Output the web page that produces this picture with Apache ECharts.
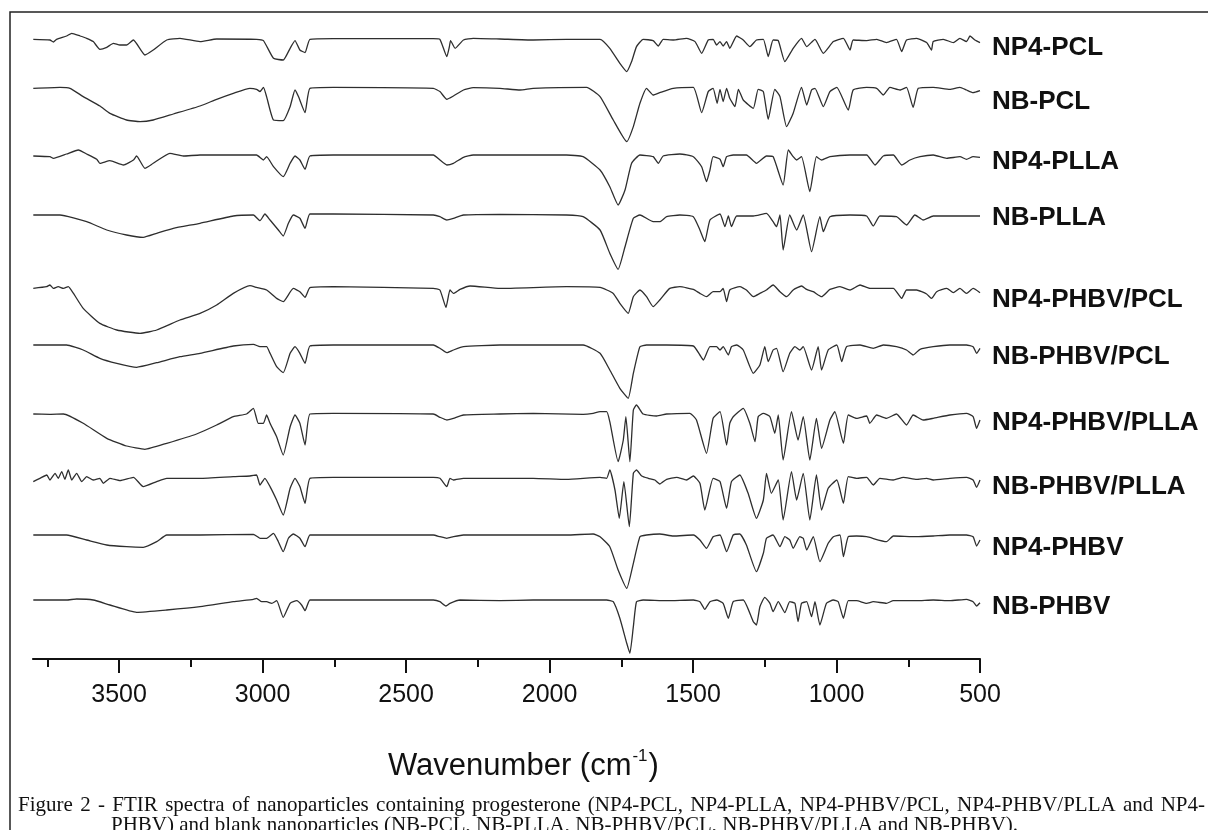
<!DOCTYPE html>
<html>
<head>
<meta charset="utf-8">
<script src="https://cdn.jsdelivr.net/npm/echarts@6/dist/echarts.min.js"></script>
<style>
html,body{margin:0;padding:0;background:#fff;}
#chart{width:1208px;height:830px;}
</style>
</head>
<body>
<div id="chart"></div>
<script>
// ---- axis ticks (wavenumber, cm-1) ----
const majorTicks = [500, 1000, 1500, 2000, 2500, 3000, 3500];
const minorTicks = [750, 1250, 1750, 2250, 2750, 3250, 3750];
const xMin = 500, xMax = 3800;

// ---- sample names (top to bottom) ----
const names = ['NP4-PCL', 'NB-PCL', 'NP4-PLLA', 'NB-PLLA', 'NP4-PHBV/PCL',
  'NB-PHBV/PCL', 'NP4-PHBV/PLLA', 'NB-PHBV/PLLA', 'NP4-PHBV', 'NB-PHBV'];

// vertical stacking offset of each spectrum (arbitrary transmittance units)
const offsets = [619.7, 570.7, 504, 444, 371.3, 314, 245, 180.7, 124, 59];

const axisTitle = 'Wavenumber (cm';
const captionLine1 = 'Figure 2 - FTIR spectra of nanoparticles containing progesterone (NP4-PCL, NP4-PLLA, NP4-PHBV/PCL, NP4-PHBV/PLLA and NP4-';
const captionLine2 = 'PHBV) and blank nanoparticles (NB-PCL, NB-PLLA, NB-PHBV/PCL, NB-PHBV/PLLA and NB-PHBV).';

// ---- spectra: [wavenumber, relative transmittance] ----
const npPcl = [[3799,0],[3741,-0.7],[3729,-2.7],[3718,0],[3683,3.3],[3665,6],[3636,3.3],[3613,1],[3590,-2.3],[3567,-10],[3543,-8],[3520,-4],[3497,-5.7],[3474,-5.7],[3450,-0.7],[3410,-15.7],[3381,-10.7],[3334,-0.7],[3288,1],[3218,-2.3],[3160,0.3],[3021,0],[2997,-1.3],[2962,-19],[2928,-20.7],[2904,-9],[2887,-1.3],[2870,-10.7],[2852,-13.3],[2835,0],[2754,0.7],[2405,0.7],[2382,0],[2358,-17.3],[2349,-7.3],[2345,-1.3],[2329,-9],[2300,-0.7],[2266,1],[2173,0.3],[2057,-0.7],[1941,0],[1824,0],[1790,-9],[1755,-24],[1731,-32.3],[1714,-22.3],[1697,-7.3],[1674,0],[1639,-1.3],[1621,-6.7],[1604,0],[1569,-0.7],[1523,1],[1493,-2.3],[1470,-14],[1447,-0.7],[1430,0],[1418,-5.7],[1406,-2.3],[1395,-6.7],[1383,-2.3],[1372,-9],[1348,3.3],[1325,-0.7],[1302,-7.3],[1279,-0.7],[1255,0],[1238,-17.3],[1221,-0.7],[1203,-1.3],[1180,-22.3],[1151,-9],[1122,1],[1104,-7.3],[1075,0],[1046,-14],[1011,-2.3],[976,1],[953,-10.7],[942,-0.7],[895,-1.3],[860,0],[826,-3.3],[791,0],[773,-12.3],[756,-0.7],[721,1],[686,-3.3],[669,-10.7],[663,-2.3],[628,0],[593,-3.3],[570,1],[547,-2.3],[535,3.3],[518,-0.7],[500,-3.3]];

const nbPcl = [[3799,0],[3706,1],[3671,0],[3625,-8.3],[3567,-17.7],[3532,-25],[3474,-31.7],[3427,-33.3],[3381,-31.7],[3311,-25.7],[3218,-17.7],[3160,-11],[3102,-5],[3044,0],[3021,-1],[3009,-3.3],[2997,1],[2986,-8.3],[2962,-31.7],[2928,-32.3],[2904,-18.3],[2887,-1.7],[2875,-8.3],[2852,-24.3],[2835,0],[2754,1],[2405,0],[2382,-3.3],[2358,-11],[2335,-7.7],[2300,-1.7],[2266,0.7],[2173,0],[2103,-1.7],[2057,0],[1871,1],[1824,-8.3],[1778,-31.7],[1731,-53.3],[1708,-38.3],[1685,-15],[1662,0],[1639,-6.7],[1616,-4.3],[1569,0],[1499,1],[1470,-24.3],[1447,-3.3],[1430,0],[1416,-15],[1406,-1],[1395,-13.3],[1383,0],[1372,-10],[1354,-18.3],[1342,-1],[1325,-11.7],[1290,-20],[1273,-1],[1255,-3.3],[1238,-31],[1215,-1],[1197,-8.3],[1174,-38.3],[1151,-25],[1122,1],[1104,-16.7],[1087,-1.7],[1075,0],[1046,-18.3],[1023,-3.3],[999,1],[959,-21.7],[942,-1.7],[895,1],[860,0],[837,-6.7],[814,1],[779,-1.7],[756,1],[733,-19],[715,0],[663,1],[605,-1],[570,1],[547,-1.7],[524,-4.3],[500,-2.3]];

const npPlla = [[3799,-1],[3741,-1.7],[3729,-3.3],[3683,1],[3642,5],[3613,1],[3578,-4.3],[3567,-8.3],[3532,-5.7],[3485,-10],[3450,-5],[3439,-1],[3410,-13.3],[3381,-8.3],[3323,1.7],[3276,-1],[3218,0],[3021,0],[2997,-5],[2986,-1.7],[2962,-11.7],[2928,-21.7],[2904,-8.3],[2887,-1],[2870,-5],[2852,-14.3],[2835,-1],[2754,0],[2405,0],[2382,-5],[2358,-10],[2335,-8.3],[2300,-2.3],[2266,0],[2173,0],[1941,0],[1883,-1.7],[1824,-15],[1790,-31.7],[1761,-50],[1737,-35],[1714,-8.3],[1685,0],[1639,-1.7],[1621,-8.3],[1604,-1],[1546,1],[1499,-1.7],[1470,-11.7],[1453,-26.7],[1441,-15],[1430,-1.7],[1406,-4.3],[1395,-11.7],[1383,-1.7],[1360,0],[1314,0],[1279,-8.3],[1244,-1],[1221,-1.7],[1186,-30],[1168,5],[1151,-1.7],[1139,-5],[1122,-1.7],[1093,-36.7],[1070,-1.7],[1052,-5],[1023,-1.7],[953,0],[895,0],[866,-10],[837,-1],[802,0],[773,-10],[744,-5],[709,-1.7],[663,0],[616,-3.3],[570,-1.7],[547,-4.3],[524,-1.7],[500,-2.3]];

const nbPlla = [[3799,0],[3706,0],[3613,-6.7],[3543,-15],[3474,-20],[3416,-22.3],[3369,-18.3],[3311,-13.3],[3218,-8.3],[3102,-1],[3032,0],[3009,-5.7],[2992,1],[2974,-5],[2945,-15],[2928,-21],[2910,-8.3],[2893,0],[2870,-3.3],[2852,-13.3],[2835,1],[2754,1],[2405,0],[2382,-1.7],[2358,-5],[2335,-3.3],[2300,0],[2173,0.7],[1941,0],[1883,-1.7],[1824,-15],[1790,-38.3],[1761,-54.3],[1737,-31.7],[1708,-3.3],[1685,0],[1639,-6.7],[1616,-6.7],[1592,-1.7],[1546,0],[1499,-1.7],[1476,-15],[1459,-26.7],[1441,-5],[1406,1],[1389,-11.7],[1377,-1],[1366,-11.7],[1348,-1],[1290,-1],[1244,1.7],[1221,-6.7],[1209,-11.7],[1197,0],[1186,-35],[1163,0],[1139,-15],[1116,0],[1087,-36.7],[1058,-1.7],[1046,-16.7],[1023,-1.7],[953,0],[895,-1],[872,-11],[849,-1],[791,-1.7],[756,-10],[727,0],[698,-5],[663,-1],[547,-1],[500,-1]];

const npPhbvPcl = [[3799,-0.7],[3753,1],[3741,2.7],[3729,-0.7],[3712,1],[3694,-0.7],[3677,1],[3659,-5.7],[3625,-20.7],[3567,-35.7],[3508,-42.3],[3427,-45.7],[3369,-42.3],[3288,-32.3],[3218,-25.7],[3160,-17.3],[3102,-5.7],[3044,2],[3021,0.3],[2986,-2.3],[2951,-10.7],[2928,-14],[2893,-0.7],[2870,-4],[2852,-9.7],[2835,0],[2754,1],[2405,-0.7],[2382,-2.3],[2361,-19.7],[2347,-2.3],[2335,-5.7],[2312,-1.7],[2277,1.7],[2173,-0.7],[1941,1],[1824,0.3],[1778,-5.7],[1755,-15.7],[1726,-25.7],[1708,-9],[1685,-2.3],[1662,-9],[1639,-19],[1616,-12.3],[1581,-0.7],[1546,1],[1499,-1.7],[1476,-5.7],[1453,-9],[1430,-4],[1406,-4],[1395,-0.7],[1383,-14],[1372,-2.3],[1337,1],[1314,-2.3],[1290,-9],[1267,-5.7],[1244,-2.3],[1221,2.7],[1197,-4],[1174,-9],[1151,-2.3],[1122,1.7],[1104,-1.7],[1081,-4],[1052,-9],[1023,-1.7],[988,1],[953,-2.3],[918,2.7],[884,-0.7],[837,-0.7],[802,-0.7],[773,-10.7],[756,-2.3],[721,-2.3],[686,-6.3],[669,-10.7],[651,-4],[616,-0.7],[593,-5],[570,-0.7],[547,-5.7],[524,-0.7],[500,-5]];

const nbPhbvPcl = [[3799,0],[3683,0],[3625,-5],[3567,-13.3],[3508,-18.3],[3439,-22.3],[3369,-17.7],[3288,-11.7],[3218,-8.3],[3102,-1],[3032,0.7],[3009,-1.7],[2986,-1.7],[2974,-8.3],[2951,-21.7],[2928,-27.7],[2904,-8.3],[2887,-1.7],[2870,-8.3],[2852,-18.3],[2835,-1],[2754,0],[2405,0],[2382,-3.3],[2358,-7.7],[2335,-5],[2300,-1.7],[2173,0],[1883,0],[1824,-8.3],[1790,-25],[1755,-43.3],[1726,-53.3],[1708,-28.3],[1685,-1.7],[1662,0],[1592,0],[1499,-1],[1476,-10],[1464,-15],[1441,-1.7],[1418,-1.7],[1406,-5],[1395,-1.7],[1377,-10],[1366,-1.7],[1348,0],[1325,-5],[1290,-28.3],[1267,-20],[1250,-1.7],[1238,-16.7],[1221,-5],[1209,-3.3],[1186,-26.7],[1163,-8.3],[1145,-1.7],[1128,-5],[1116,-1.7],[1087,-25],[1064,-1.7],[1052,-25],[1029,-5],[999,0],[982,-16.7],[965,-1.7],[918,0],[872,-3.3],[837,0],[791,-1.7],[756,-5],[733,-10],[709,-4.3],[663,-1.7],[605,0],[547,0],[524,-1.7],[512,-8.3],[500,-3.3]];

const npPhbvPlla = [[3799,0],[3741,-0.3],[3694,0],[3625,-9.3],[3543,-24.3],[3474,-32],[3410,-35.3],[3334,-29.3],[3230,-20],[3160,-11],[3102,-2.7],[3056,0],[3032,5.7],[3015,-9.3],[2997,-9.3],[2986,-1],[2974,-9.3],[2951,-22.7],[2928,-41],[2904,-12.7],[2887,-1],[2870,-9.3],[2852,-31],[2835,0],[2754,0.7],[2405,0],[2382,-3.3],[2358,-6],[2335,-4.3],[2300,-1],[2173,0],[2057,0.7],[1883,-0.3],[1848,0.7],[1824,2.3],[1801,2.3],[1790,-7.7],[1761,-47.7],[1743,-26],[1734,-2.7],[1720,-47.7],[1708,4],[1697,9],[1674,0],[1627,-2],[1592,0],[1511,0.7],[1488,-6],[1453,-39.3],[1430,-4.3],[1406,2.3],[1383,-31],[1372,-9.3],[1360,-2.7],[1325,5.7],[1302,-9.3],[1284,-27.7],[1273,-2.7],[1255,0.7],[1232,-2.7],[1215,-19.3],[1203,-1],[1186,-46],[1157,2.3],[1134,-26],[1116,-2.7],[1093,-46],[1070,-4.3],[1052,-34.3],[1023,-6],[1006,2.3],[976,-29.3],[959,-1],[930,-4.3],[895,-2],[884,-9.3],[860,-1],[826,-4.3],[791,0],[756,-11],[733,-1],[698,-6],[663,-4.3],[605,-1],[547,0.7],[524,-2.7],[512,-14.3],[500,-6]];

const nbPhbvPlla = [[3799,-3.3],[3776,0],[3752,3.3],[3741,-1.7],[3723,5],[3712,0],[3700,6.7],[3689,-1],[3677,8.3],[3665,-1.7],[3648,5],[3630,-3.3],[3613,1.7],[3590,-1.7],[3567,0],[3555,-5],[3532,0],[3497,-2.3],[3450,1],[3416,-8.3],[3369,-3.3],[3334,0],[3218,0],[3102,1.7],[3044,2.3],[3021,3.3],[3009,-6.7],[2992,0],[2974,-8.3],[2951,-21.7],[2928,-36.7],[2904,-10],[2887,0],[2870,-8.3],[2852,-25],[2835,0],[2754,1],[2405,1],[2382,0],[2358,-8.3],[2347,0],[2335,-1.7],[2300,0],[2173,0],[2057,0],[1941,-1],[1824,1],[1801,0],[1790,8.3],[1772,-11.7],[1757,-40],[1741,-3.3],[1722,-48.3],[1708,5],[1697,8.3],[1679,2.3],[1656,0],[1633,-1.7],[1616,-5.7],[1592,-1],[1557,1],[1523,-1.7],[1499,2.3],[1476,-5],[1459,-31.7],[1430,0],[1406,-3.3],[1383,-30],[1366,-3.3],[1337,3.3],[1308,-15],[1279,-40],[1255,-21.7],[1244,5],[1227,-15],[1203,-1.7],[1186,-41.7],[1157,6.7],[1139,-21.7],[1116,5],[1093,-41.7],[1070,3.3],[1052,-31.7],[1029,-10],[999,-1.7],[976,-25],[959,1.7],[930,0],[895,1],[872,-6.7],[849,0],[802,-1.7],[767,1],[721,-1],[686,0],[663,-1.7],[605,0],[547,1],[524,-1.7],[512,-9],[500,-1.7]];

const npPhbv = [[3799,0],[3683,0],[3613,-5],[3543,-10],[3474,-11.7],[3416,-12.3],[3369,-6.7],[3334,0],[3218,0],[3032,0.7],[3009,-3.3],[2986,-3.3],[2962,1.7],[2945,-6.7],[2928,-16.7],[2910,-3.3],[2893,1],[2870,-3.3],[2852,-11.7],[2835,0],[2754,0],[2405,0],[2382,-1.7],[2358,-3.3],[2335,-1.7],[2300,0],[2173,0],[1941,0],[1848,1],[1824,-1.7],[1790,-11.7],[1761,-35],[1731,-53.3],[1708,-28.3],[1685,-1.7],[1662,0],[1616,1],[1569,-1],[1499,0],[1476,-5],[1453,-13.3],[1430,-1.7],[1406,0],[1383,-16.7],[1360,0],[1337,1],[1314,-10],[1279,-36.7],[1255,-18.3],[1244,-3.3],[1221,0],[1197,-11.7],[1180,-1.7],[1163,-5],[1151,-13.3],[1128,-1.7],[1116,-3.3],[1104,-15],[1081,-1.7],[1058,-26.7],[1029,-8.3],[1011,-1.7],[988,0],[976,-21.7],[959,-1.7],[930,-1],[895,-1.7],[826,-6.7],[802,-1],[721,-1.7],[663,-1],[605,0],[547,0],[524,-1.7],[512,-11],[500,-5]];

const nbPhbv = [[3799,0],[3683,0],[3648,1],[3590,0],[3532,-5],[3439,-12.3],[3334,-10],[3218,-6.7],[3102,-1.7],[3032,0.7],[3021,1.7],[3003,-1.7],[2986,-1.7],[2968,-3.3],[2951,-0.7],[2928,-17.3],[2904,-3.3],[2881,-0.7],[2864,-5],[2852,-10.7],[2835,0],[2754,0],[2405,0],[2382,-1.7],[2361,-6],[2347,-3.3],[2312,0],[2173,-0.7],[2057,0],[1941,0],[1801,0],[1778,-1.7],[1755,-18.3],[1731,-43.3],[1720,-53.3],[1708,-26.7],[1697,-1.7],[1674,0],[1592,-0.7],[1499,0],[1476,-1.7],[1459,-9.3],[1441,-1.7],[1418,0],[1395,-3.3],[1377,-18.3],[1360,-1.7],[1325,0],[1290,-21.7],[1279,-25],[1267,-6.7],[1250,2.7],[1232,-3.3],[1221,-11.7],[1203,-1.7],[1180,-12.7],[1163,-1.7],[1145,-3.3],[1134,-21.7],[1122,-3.3],[1104,-1.7],[1087,-16.7],[1075,-1.7],[1058,-25],[1035,-3.3],[1011,0],[994,-1.7],[976,-18.3],[959,-0.7],[930,-0.7],[895,-3.3],[872,-1.7],[826,-3.3],[802,-0.7],[721,-0.7],[663,0],[605,-0.7],[547,0.7],[524,-1.7],[512,-6],[500,-2.7]];

const spectra = [npPcl, nbPcl, npPlla, nbPlla, npPhbvPcl, nbPhbvPcl, npPhbvPlla, nbPhbvPlla, npPhbv, nbPhbv];

// ---- build chart ----
const chart = echarts.init(document.getElementById('chart'), null, {renderer: 'canvas'});
const FONT = '"Liberation Sans", Arial, Helvetica, sans-serif';
const SERIF = '"Liberation Serif", "Times New Roman", serif';

const series = spectra.map((s, i) => ({
  name: names[i],
  type: 'line',
  xAxisIndex: 0,
  yAxisIndex: 0,
  showSymbol: false,
  symbol: 'none',
  smooth: 0.15,
  animation: false,
  lineStyle: {color: '#2e2e2e', width: 1.3},
  data: s.map(p => [p[0], offsets[i] + p[1]])
}));

const labelY = [48, 102, 162, 218, 300, 357, 423, 487, 548, 607];
const labelGraphics = names.map((n, i) => ({
  type: 'text',
  x: 992,
  y: labelY[i],
  scaleX: 1.04,
  style: {text: n, font: 'bold 25px ' + FONT, fill: '#111', verticalAlign: 'middle', align: 'left'}
}));

// justified first caption line (words spread across the line width)
const capFont = '21px ' + SERIF;
const measureCtx = document.createElement('canvas').getContext('2d');
measureCtx.font = capFont;
const capWords = captionLine1.split(' ');
const capWidths = capWords.map(w => measureCtx.measureText(w).width);
const capStart = 18, capEnd = 1205;
const capGap = Math.max(4, (capEnd - capStart - capWidths.reduce((a, b) => a + b, 0)) / (capWords.length - 1));
let cx = capStart;
const capGraphics = capWords.map((w, i) => {
  const g = {type: 'text', x: cx, y: 795, style: {text: w, font: capFont, fill: '#111'}};
  cx += capWidths[i] + capGap;
  return g;
});

chart.setOption({
  animation: false,
  backgroundColor: '#ffffff',
  grid: {left: 33, right: 228, top: 9, bottom: 171, containLabel: false},
  xAxis: [{
    type: 'value', min: xMin, max: xMax, inverse: true,
    axisLine: {show: true, lineStyle: {color: '#111', width: 2.2}},
    axisTick: {show: true, inside: false, length: 14, lineStyle: {color: '#111', width: 2}, customValues: majorTicks},
    axisLabel: {show: true, customValues: majorTicks, margin: 24, fontSize: 25, color: '#111', fontFamily: FONT,
      formatter: v => String(v)},
    splitLine: {show: false}
  }, {
    type: 'value', min: xMin, max: xMax, inverse: true, position: 'bottom',
    axisLine: {show: false},
    axisTick: {show: true, length: 8, lineStyle: {color: '#111', width: 2}, customValues: minorTicks},
    axisLabel: {show: false},
    splitLine: {show: false}
  }],
  yAxis: {type: 'value', min: 0, max: 650, show: false},
  series: series,
  graphic: [
    {type: 'rect', shape: {x: 10, y: 12, width: 1210, height: 830}, style: {fill: 'none', stroke: '#222', lineWidth: 1.5}, silent: true},
    ...labelGraphics,
    {
      type: 'text', left: 388, top: 748,
      style: {
        text: '{a|' + axisTitle + '}{s|-1}{a|)}',
        rich: {
          a: {fontSize: 31, fontFamily: FONT, fill: '#111', lineHeight: 36},
          s: {fontSize: 17, fontFamily: FONT, fill: '#111', verticalAlign: 'top', lineHeight: 36, padding: [0, 1, 12, 1]}
        }
      }
    },
    ...capGraphics,
    {
      type: 'text', x: 111, y: 815,
      style: {text: captionLine2, font: capFont, fill: '#111'}
    }
  ]
});
</script>
</body>
</html>
